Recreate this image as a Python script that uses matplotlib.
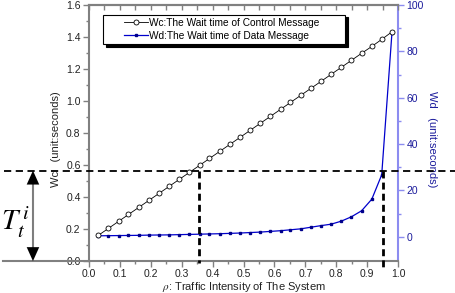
import numpy as np
import matplotlib
matplotlib.use("Agg")
import matplotlib.pyplot as plt
from matplotlib.transforms import blended_transform_factory
from matplotlib.legend_handler import HandlerLine2D

plt.rcParams['font.family'] = ['Liberation Sans', 'DejaVu Sans']
plt.rcParams['mathtext.fontset'] = 'stix'

# traffic intensity (rho) and the two wait times
rho = [0.030, 0.063, 0.096, 0.128, 0.161, 0.194, 0.227, 0.259, 0.292, 0.325,
       0.358, 0.390, 0.423, 0.456, 0.489, 0.521, 0.554, 0.587, 0.620, 0.652,
       0.685, 0.718, 0.751, 0.783, 0.816, 0.849, 0.882, 0.915, 0.947, 0.980]
wc = [0.160, 0.204, 0.248, 0.291, 0.335, 0.379, 0.423, 0.466, 0.510, 0.554,
      0.598, 0.641, 0.685, 0.729, 0.773, 0.816, 0.860, 0.904, 0.948, 0.991,
      1.035, 1.079, 1.123, 1.166, 1.210, 1.254, 1.298, 1.341, 1.385, 1.432]
wd = [0.4, 0.45, 0.5, 0.55, 0.6, 0.7, 0.75, 0.8, 0.9, 1.0,
      1.1, 1.2, 1.3, 1.45, 1.6, 1.8, 2.0, 2.3, 2.6, 3.0,
      3.4, 4.1, 4.8, 5.4, 6.7, 8.6, 11.2, 16.2, 26.7, 87.7]

label_wc = "Wc:The Wait time of Control Message"
label_wd = "Wd:The Wait time of Data Message"

# threshold markers
t_level = 0.565     # left axis units
rho_c = 0.355
rho_d = 0.952

fig = plt.figure(figsize=(4.56, 2.93), dpi=100)
ax = fig.add_axes([0.195, 0.109, 0.678, 0.874])
ax2 = ax.twinx()

gray = '#808080'
blue = '#0000cc'
spine_blue = '#8c8cf0'
tick_blue = '#1c1c9c'

l1, = ax.plot(rho, wc, color='black', lw=0.6, marker='o', ms=3.6,
              mfc='white', mec='black', mew=0.6, label=label_wc)
l2, = ax2.plot(rho, wd, color=blue, lw=0.9, marker='s', ms=1.8,
               mfc='#00008b', mec='#00008b', label=label_wd)

ax.set_xlim(0, 1.0)
ax.set_ylim(0, 1.6)
ax2.set_ylim(-10.5, 100)

ax.set_xticks(np.arange(0, 1.01, 0.1))
ax.set_xticks(np.arange(0.05, 1.0, 0.1), minor=True)
ax.set_yticks(np.arange(0, 1.61, 0.2))
ax.set_yticks(np.arange(0.1, 1.6, 0.2), minor=True)
ax2.set_yticks(np.arange(0, 101, 20))
ax2.set_yticks(np.arange(10, 100, 20), minor=True)

ax.xaxis.set_major_formatter(plt.FormatStrFormatter('%.1f'))
ax.yaxis.set_major_formatter(plt.FormatStrFormatter('%.1f'))

ax.tick_params(axis='x', which='both', direction='out', top=False, colors=gray,
               labelcolor='#222222', labelsize=7.5, pad=2)
ax.tick_params(axis='x', which='major', length=4, width=1)
ax.tick_params(axis='x', which='minor', length=2.5, width=1)
ax.tick_params(axis='y', which='both', direction='out', colors=gray,
               labelcolor='#222222', labelsize=7.5, pad=2)
ax.tick_params(axis='y', which='major', length=4, width=1)
ax.tick_params(axis='y', which='minor', length=2.5, width=1)
ax2.tick_params(axis='y', which='both', direction='out', colors=spine_blue,
                labelcolor=tick_blue, labelsize=7.5, pad=2)
ax2.tick_params(axis='y', which='major', length=4, width=1)
ax2.tick_params(axis='y', which='minor', length=2.5, width=1)

# top axis: ticks pointing into the plot, no labels
top = ax.secondary_xaxis('top')
top.set_xticks(np.arange(0, 1.01, 0.1))
top.set_xticks(np.arange(0.05, 1.0, 0.1), minor=True)
top.tick_params(axis='x', which='both', direction='in', colors=gray,
                labeltop=False, length=3.5, width=1)
top.spines['top'].set_color(gray)
top.spines['top'].set_linewidth(1.5)

for s in ['left', 'bottom', 'top']:
    ax.spines[s].set_color(gray)
    ax.spines[s].set_linewidth(1.5)
ax.spines['right'].set_visible(False)
for s in ['left', 'bottom', 'top']:
    ax2.spines[s].set_visible(False)
ax2.spines['right'].set_color(spine_blue)
ax2.spines['right'].set_linewidth(1.5)

ax.set_xlabel(r"$\rho$: Traffic Intensity of The System", fontsize=8, color='#222222')
ax.xaxis.set_label_coords(0.5, -0.072)
ax.set_ylabel("Wc   (unit:seconds)", fontsize=8, color='#222222')
ax.yaxis.set_label_coords(-0.09, 0.476)
ax2.set_ylabel("Wd   (unit:seconds)", fontsize=8, color=tick_blue, rotation=270)
ax2.yaxis.set_label_coords(1.126, 0.476)

# dashed threshold lines
ax.axhline(t_level, xmin=-0.275, xmax=1.19, color='black', lw=1.3,
           ls=(0, (4, 2.5)), clip_on=False, zorder=5)
ax.plot([rho_c, rho_c], [t_level, -0.012], color='black', lw=2,
        ls=(0, (2.5, 1.5)), clip_on=False, zorder=5)
ax.plot([rho_d, rho_d], [t_level, -0.056], color='black', lw=2,
        ls=(0, (2.5, 1.5)), clip_on=False, zorder=5)

# baseline and double arrow on the left
trans = blended_transform_factory(ax.transAxes, ax.transData)
ax.plot([-0.278, 0], [0, 0], color=gray, lw=1.5, transform=trans, clip_on=False)
x_arrow = -0.181
ax.plot([x_arrow, x_arrow], [t_level - 0.03, 0.03], color=gray, lw=1.5,
        transform=trans, clip_on=False)
for y_tip in (t_level, 0):
    ax.annotate('', xy=(x_arrow, y_tip), xytext=(x_arrow, 0.30), xycoords=trans,
                textcoords=trans, annotation_clip=False,
                arrowprops=dict(arrowstyle='-|>,head_length=1.0,head_width=0.45',
                                color='black', lw=0.01, shrinkA=0, shrinkB=0))
ax.text(-0.283, 0.245, r"$T_t^{\,i}$", fontsize=21, transform=trans,
        ha='left', va='center', clip_on=False)

leg = ax.legend(handles=[l1, l2], loc='upper left',
                bbox_to_anchor=(0.045, 0.962, 0.783, 0), mode='expand',
                fontsize=7.3, frameon=True, fancybox=False,
                shadow={'color': 'black', 'alpha': 1}, edgecolor='black',
                framealpha=1, borderpad=0.3, labelspacing=0.3,
                handlelength=4.2, handletextpad=0.1, borderaxespad=0,
                handler_map={l1: HandlerLine2D(xpad=1.8), l2: HandlerLine2D(xpad=1.8)})
leg.get_frame().set_linewidth(0.8)
leg.set_zorder(10)
ax.set_zorder(ax2.get_zorder() + 1)
ax.patch.set_visible(False)

fig.savefig('out.png', dpi=100)
